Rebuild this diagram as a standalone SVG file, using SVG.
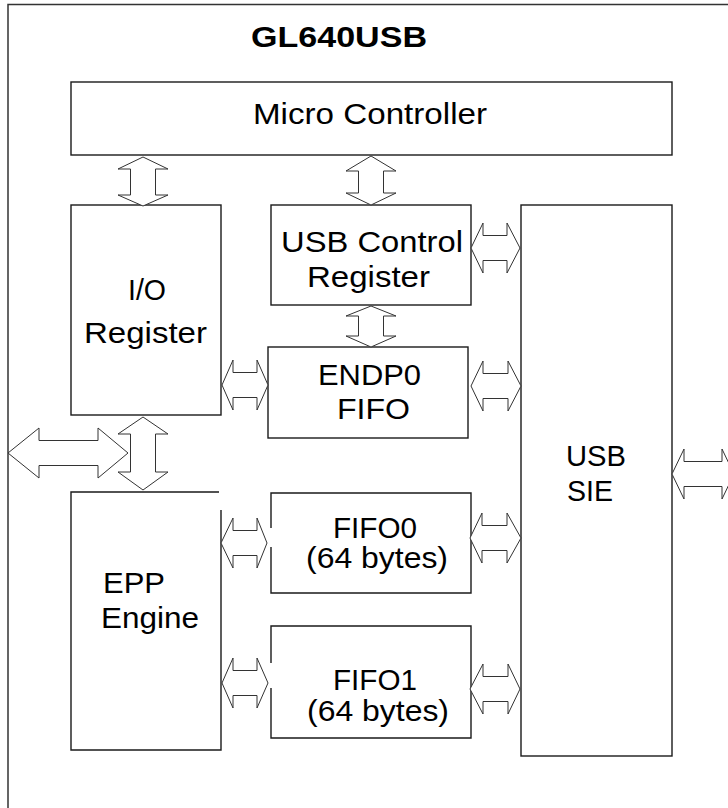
<svg xmlns="http://www.w3.org/2000/svg" width="728" height="808" viewBox="0 0 728 808">
<style>
.box{fill:none;stroke:#1a1a1a;stroke-width:1.4}
.frame{fill:none;stroke:#333;stroke-width:1.5}
.arr{fill:#fff;stroke:#333;stroke-width:1}
text{font-family:"Liberation Sans",Arial,sans-serif;font-size:29px;fill:#000}
.title{font-weight:bold;font-size:29px}
</style>
<rect width="728" height="808" fill="#fff"/>
<g id="frame"><path class="frame" d="M728,4.5 H8 V808"/></g>
<g id="title"><text class="title" x="251" y="47" textLength="176" lengthAdjust="spacingAndGlyphs">GL640USB</text></g>
<g id="micro"><rect class="box" x="71" y="82" width="601" height="73"/><text x="253" y="124" textLength="234" lengthAdjust="spacingAndGlyphs">Micro Controller</text></g>
<g id="io"><rect class="box" x="71" y="205" width="150" height="210"/><text x="128" y="300" textLength="38" lengthAdjust="spacingAndGlyphs">I/O</text><text x="84" y="343" textLength="123" lengthAdjust="spacingAndGlyphs">Register</text></g>
<g id="usbctrl"><rect class="box" x="271" y="205" width="200" height="100"/><text x="281" y="252" textLength="182" lengthAdjust="spacingAndGlyphs">USB Control</text><text x="307" y="287" textLength="123" lengthAdjust="spacingAndGlyphs">Register</text></g>
<g id="endp0"><rect class="box" x="268" y="347" width="200" height="91"/><text x="318" y="385" textLength="103" lengthAdjust="spacingAndGlyphs">ENDP0</text><text x="337" y="419" textLength="73" lengthAdjust="spacingAndGlyphs">FIFO</text></g>
<g id="epp"><path class="box" d="M219,492 H71 V750 H221 V510"/><text x="103" y="593" textLength="62" lengthAdjust="spacingAndGlyphs">EPP</text><text x="101" y="628" textLength="98" lengthAdjust="spacingAndGlyphs">Engine</text></g>
<g id="fifo0"><path class="box" d="M271,528 V493 H471 V593 H271 V547"/><text x="333" y="538" textLength="84" lengthAdjust="spacingAndGlyphs">FIFO0</text><text x="306" y="568" textLength="142" lengthAdjust="spacingAndGlyphs">(64 bytes)</text></g>
<g id="fifo1"><path class="box" d="M271,663 V626 H471 V738 H271 V688"/><text x="333" y="690" textLength="84" lengthAdjust="spacingAndGlyphs">FIFO1</text><text x="307" y="721" textLength="142" lengthAdjust="spacingAndGlyphs">(64 bytes)</text></g>
<g id="sie"><rect class="box" x="521" y="205" width="151" height="551"/><text x="566" y="466" textLength="60" lengthAdjust="spacingAndGlyphs">USB</text><text x="567" y="501" textLength="46" lengthAdjust="spacingAndGlyphs">SIE</text></g>
<g id="connectors">
<path class="arr" d="M143,157 L168,169 L155.5,169 L155.5,195 L168,195 L143,206 L118,195 L130.5,195 L130.5,169 L118,169 Z"/>
<path class="arr" d="M371,156 L396,171 L383.5,171 L383.5,193 L396,193 L371,205 L346,193 L358.5,193 L358.5,171 L346,171 Z"/>
<path class="arr" d="M371,306 L396,316 L383.5,316 L383.5,336 L396,336 L371,347 L346,336 L358.5,336 L358.5,316 L346,316 Z"/>
<path class="arr" d="M143,417 L168,434 L155.5,434 L155.5,472 L168,472 L143,490 L118,472 L130.5,472 L130.5,434 L118,434 Z"/>
<path class="arr" d="M8,453 L39,428 L39,440.5 L98,440.5 L98,428 L128,453 L98,478 L98,465.5 L39,465.5 L39,478 Z"/>
<path class="arr" d="M471,248 L483,223 L483,235.5 L507,235.5 L507,223 L520,248 L507,273 L507,260.5 L483,260.5 L483,273 Z"/>
<path class="arr" d="M222,385 L233,360 L233,372.5 L257,372.5 L257,360 L268,385 L257,410 L257,397.5 L233,397.5 L233,410 Z"/>
<path class="arr" d="M471,386 L483,361 L483,373.5 L508,373.5 L508,361 L521,386 L508,411 L508,398.5 L483,398.5 L483,411 Z"/>
<path class="arr" d="M221,543 L233,518 L233,530.5 L257,530.5 L257,518 L267,543 L257,568 L257,555.5 L233,555.5 L233,568 Z"/>
<path class="arr" d="M470,538 L482,513 L482,525.5 L507,525.5 L507,513 L521,538 L507,563 L507,550.5 L482,550.5 L482,563 Z"/>
<path class="arr" d="M222,683 L233,658 L233,670.5 L257,670.5 L257,658 L268,683 L257,708 L257,695.5 L233,695.5 L233,708 Z"/>
<path class="arr" d="M470,689 L483,664 L483,676.5 L508,676.5 L508,664 L520,689 L508,714 L508,701.5 L483,701.5 L483,714 Z"/>
<path class="arr" d="M672,474 L684,449 L684,461.5 L722,461.5 L722,449 L734,474 L722,499 L722,486.5 L684,486.5 L684,499 Z"/>
</g>
</svg>
